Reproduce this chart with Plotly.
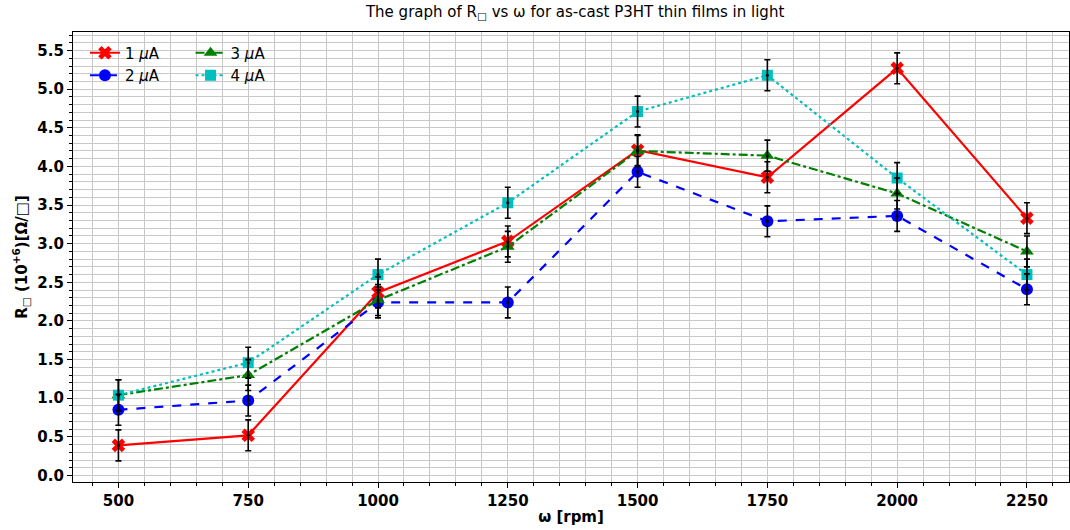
import plotly.graph_objects as go

omega = [500, 750, 1000, 1250, 1500, 1750, 2000, 2250]
r_1uA = [0.39, 0.52, 2.37, 3.03, 4.21, 3.86, 5.27, 3.33]
r_2uA = [0.85, 0.97, 2.24, 2.24, 3.93, 3.29, 3.36, 2.41]
r_3uA = [1.04, 1.30, 2.27, 2.96, 4.20, 4.14, 3.65, 2.90]
r_4uA = [1.04, 1.46, 2.60, 3.53, 4.71, 5.18, 3.85, 2.60]
err_1uA = [0.2, 0.2, 0.2, 0.2, 0.2, 0.2, 0.2, 0.2]
err_2uA = [0.2, 0.2, 0.2, 0.2, 0.2, 0.2, 0.2, 0.2]
err_3uA = [0.2, 0.2, 0.2, 0.2, 0.2, 0.2, 0.2, 0.2]
err_4uA = [0.2, 0.2, 0.2, 0.2, 0.2, 0.2, 0.2, 0.2]
labels = ["1 <i>μ</i>A", "2 <i>μ</i>A", "3 <i>μ</i>A", "4 <i>μ</i>A"]
x_ticks = [500, 750, 1000, 1250, 1500, 1750, 2000, 2250]
y_ticks = [0.0, 0.5, 1.0, 1.5, 2.0, 2.5, 3.0, 3.5, 4.0, 4.5, 5.0, 5.5]

series = [r_1uA, r_2uA, r_3uA, r_4uA]
errors = [err_1uA, err_2uA, err_3uA, err_4uA]
colors = ["#ff0000", "#0000ff", "#008000", "#00bfbf"]
dashes = ["solid", "dash", "dashdot", "dot"]
symbols = ["x", "circle", "triangle-up", "square"]
sizes = [12, 12, 12, 11]
legends = ["legend", "legend", "legend2", "legend2"]

fig = go.Figure()
for ys, lab, c, d, s, sz, lg in zip(series, labels, colors, dashes, symbols, sizes, legends):
    fig.add_trace(go.Scatter(
        x=omega, y=ys, name=lab, mode="lines+markers",
        line=dict(color=c, width=2.2, dash=d),
        marker=dict(color=c, symbol=s, size=sz, line=dict(width=0)),
        legend=lg,
    ))
for ys, es in zip(series, errors):
    fig.add_trace(go.Scatter(
        x=omega, y=ys, mode="markers", showlegend=False, hoverinfo="skip",
        marker=dict(color="black", size=3),
        error_y=dict(type="data", array=es, visible=True, color="black",
                     thickness=1.6, width=3),
    ))

axis_font = dict(family="DejaVu Sans", size=15, color="black")
fig.update_layout(
    width=1070, height=530,
    margin=dict(l=73, r=1, t=32, b=48),
    paper_bgcolor="white", plot_bgcolor="white",
    title=dict(text="The graph of R<sub>□</sub> vs ω for as-cast P3HT thin films in light",
               x=0.5375, xanchor="center", y=0.988, yanchor="top",
               font=dict(family="DejaVu Sans", size=15, color="black")),
    font=dict(family="DejaVu Sans", color="black"),
    legend=dict(x=0.012, y=0.99, xanchor="left", yanchor="top",
                bgcolor="rgba(255,255,255,0)", font=dict(size=15),
                tracegroupgap=0, itemwidth=30),
    legend2=dict(x=0.118, y=0.99, xanchor="left", yanchor="top",
                 bgcolor="rgba(255,255,255,0)", font=dict(size=15),
                 tracegroupgap=0, itemwidth=30),
    xaxis=dict(
        range=[412.5, 2331], tickvals=x_ticks,
        ticktext=[f"<b>{v}</b>" for v in x_ticks],
        tickfont=axis_font, ticks="outside", ticklen=5, tickcolor="black",
        showline=True, linecolor="black", linewidth=1.2, mirror=True,
        showgrid=True, gridcolor="#c8c8c8", gridwidth=1.2, zeroline=False,
        minor=dict(dtick=50, tick0=0, ticks="outside", ticklen=3, tickcolor="black",
                   showgrid=True, gridcolor="#c8c8c8", gridwidth=1.2),
        title=dict(text="<b>ω [rpm]</b>", font=dict(family="DejaVu Sans", size=15), standoff=2),
    ),
    yaxis=dict(
        range=[-0.084, 5.74], tickvals=y_ticks,
        ticktext=[f"<b>{v:.1f}</b>" for v in y_ticks],
        tickfont=axis_font, ticks="outside", ticklen=5, tickcolor="black",
        showline=True, linecolor="black", linewidth=1.2, mirror=True,
        showgrid=True, gridcolor="#c8c8c8", gridwidth=1.2, zeroline=False,
        minor=dict(dtick=0.1, tick0=0, ticks="outside", ticklen=3, tickcolor="black",
                   showgrid=True, gridcolor="#c8c8c8", gridwidth=1.2),
        title=dict(text="<b>R<sub>□</sub> (10<sup>+6</sup>)[Ω/□]</b>",
                   font=dict(family="DejaVu Sans", size=15), standoff=6),
    ),
)
fig.write_html("out.html")
